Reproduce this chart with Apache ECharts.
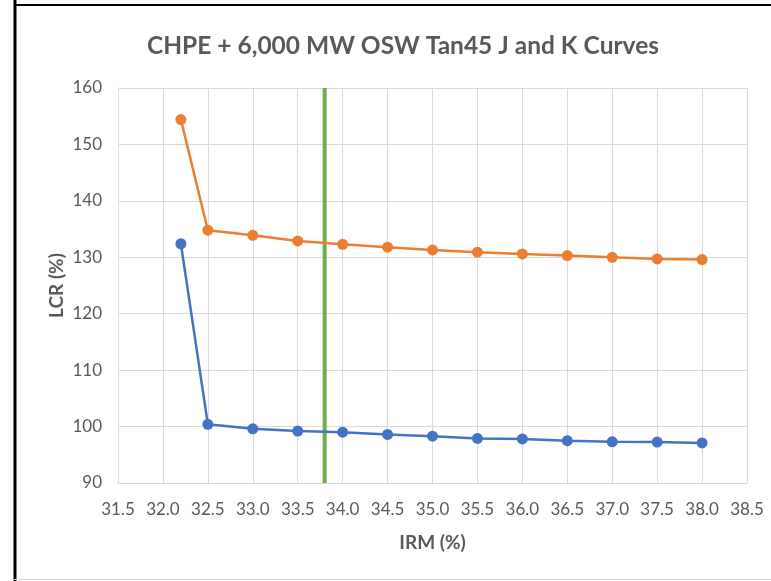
<!DOCTYPE html>
<html>
<head>
<meta charset="utf-8">
<script src="https://cdn.jsdelivr.net/npm/echarts@6/dist/echarts.min.js"></script>
<style>
html,body{margin:0;padding:0;background:#fff;overflow:hidden;}
#c{width:771px;height:581px;}
</style>
</head>
<body>
<div id="c"></div>
<script>
const titleText = 'CHPE + 6,000 MW OSW Tan45 J and K Curves';
const irm = [32.2, 32.5, 33.0, 33.5, 34.0, 34.5, 35.0, 35.5, 36.0, 36.5, 37.0, 37.5, 38.0];
const curveK = [154.4, 134.8, 133.9, 132.9, 132.3, 131.8, 131.3, 130.9, 130.6, 130.3, 130.0, 129.7, 129.6];
const curveJ = [132.4, 100.4, 99.6, 99.2, 99.0, 98.6, 98.3, 97.9, 97.8, 97.5, 97.3, 97.25, 97.1];
const refIRM = 33.8;
const refLCR = [90, 160];
const xName = 'IRM (%)';
const yName = 'LCR (%)';

const FONT = 'Lato, sans-serif';
const chart = echarts.init(document.getElementById('c'));
chart.setOption({
  animation: false,
  backgroundColor: '#fff',
  title: {
    text: titleText, left: 142, top: 29,
    textStyle: {fontFamily: FONT, fontSize: 24.5, fontWeight: 'bold', color: '#595959'}
  },
  graphic: [
    {type: 'line', shape: {x1: 15, y1: 0, x2: 15, y2: 581}, style: {stroke: '#000', lineWidth: 3}},
    {type: 'line', shape: {x1: 14, y1: 5, x2: 771, y2: 5}, style: {stroke: '#000', lineWidth: 2}},
    {type: 'line', shape: {x1: 14, y1: 579.5, x2: 771, y2: 579.5}, style: {stroke: '#d9d9d9', lineWidth: 1}}
  ],
  grid: {left: 118, top: 88, right: 24, bottom: 98, containLabel: false},
  xAxis: {
    type: 'value', min: 31.5, max: 38.5, interval: 0.5,
    name: xName, nameLocation: 'middle', nameGap: 50,
    nameTextStyle: {fontFamily: FONT, fontSize: 19, fontWeight: 'bold', color: '#595959'},
    axisLine: {show: true, lineStyle: {color: '#d9d9d9', width: 1}},
    axisTick: {show: false},
    axisLabel: {fontFamily: FONT, fontSize: 17, color: '#595959', margin: 18,
      formatter: v => v.toFixed(1)},
    splitLine: {show: true, lineStyle: {color: '#d9d9d9', width: 1}}
  },
  yAxis: {
    type: 'value', min: 90, max: 160, interval: 10,
    name: yName, nameLocation: 'middle', nameGap: 52, nameRotate: 90,
    nameMoveOverlap: false,
    nameTextStyle: {fontFamily: FONT, fontSize: 19, fontWeight: 'bold', color: '#595959'},
    axisLine: {show: true, lineStyle: {color: '#d9d9d9', width: 1}},
    axisTick: {show: false},
    axisLabel: {fontFamily: FONT, fontSize: 17, color: '#595959', margin: 16},
    splitLine: {show: true, lineStyle: {color: '#d9d9d9', width: 1}}
  },
  series: [
    {
      name: 'Reference', type: 'line', symbol: 'none',
      data: refLCR.map(v => [refIRM, v]),
      lineStyle: {color: '#70ad47', width: 4}, z: 1
    },
    {
      name: 'K', type: 'line', symbol: 'circle', symbolSize: 11,
      data: irm.map((x, i) => [x, curveK[i]]),
      lineStyle: {color: '#ed7d31', width: 2.5}, itemStyle: {color: '#ed7d31'}, z: 3
    },
    {
      name: 'J', type: 'line', symbol: 'circle', symbolSize: 11,
      data: irm.map((x, i) => [x, curveJ[i]]),
      lineStyle: {color: '#4472c4', width: 2.5}, itemStyle: {color: '#4472c4'}, z: 3
    }
  ]
});
</script>
</body>
</html>
